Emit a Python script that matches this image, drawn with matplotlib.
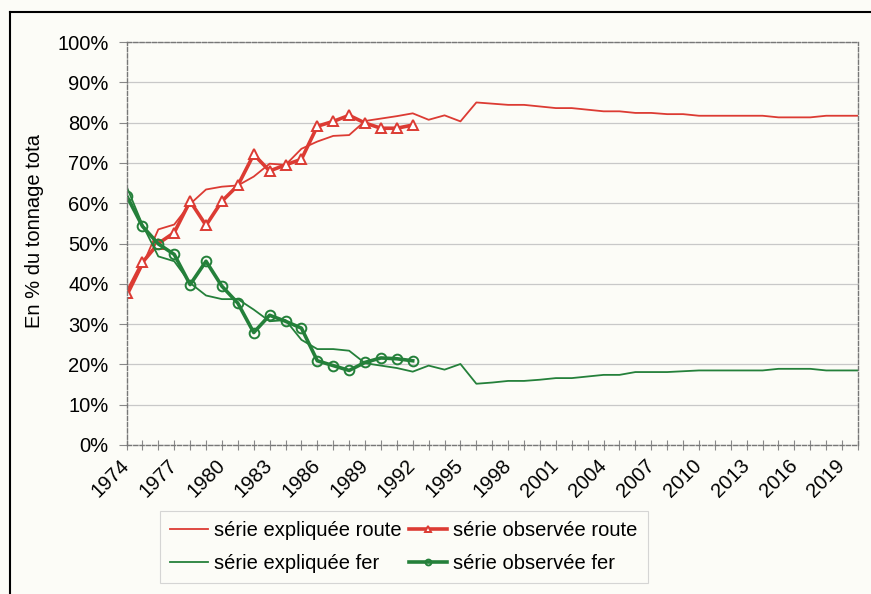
import numpy as np
import matplotlib.pyplot as plt
from matplotlib.lines import Line2D
from matplotlib.transforms import ScaledTranslation

plt.rcParams['font.family'] = ['Liberation Sans', 'DejaVu Sans']

# --- data (% of total tonnage) --------------------------------------------
years = list(range(1974, 2021))

route_explained = [36.5, 44.5, 53.5, 54.7, 59.8, 63.4, 64.1, 64.4, 66.6, 69.8,
                   69.5, 73.5, 75.3, 76.7, 76.9, 80.4, 81.0, 81.6, 82.3, 80.7,
                   81.8, 80.3, 85.0, 84.7, 84.4, 84.4, 84.0, 83.6, 83.6, 83.2,
                   82.8, 82.8, 82.4, 82.4, 82.1, 82.1, 81.7, 81.7, 81.7, 81.7,
                   81.7, 81.3, 81.3, 81.3, 81.7, 81.7, 81.7]
fer_explained = [64.2, 54.7, 46.8, 45.6, 40.2, 37.1, 36.2, 36.2, 33.6, 30.7,
                 31.0, 26.1, 23.8, 23.8, 23.4, 20.3, 19.7, 19.1, 18.2, 19.7,
                 18.7, 20.1, 15.2, 15.5, 15.9, 15.9, 16.2, 16.6, 16.6, 17.0,
                 17.4, 17.4, 18.1, 18.1, 18.1, 18.3, 18.5, 18.5, 18.5, 18.5,
                 18.5, 18.9, 18.9, 18.9, 18.5, 18.5, 18.5]

obs_years = list(range(1974, 1993))
route_observed = [37.7, 45.3, 50.0, 52.7, 60.5, 54.5, 60.5, 64.4, 72.1, 68.0,
                  69.5, 70.9, 79.1, 80.3, 81.8, 79.9, 78.6, 78.6, 79.4]
fer_observed = [61.9, 54.3, 49.9, 47.3, 39.8, 45.6, 39.4, 35.2, 27.9, 32.2,
                30.7, 29.0, 20.9, 19.7, 18.5, 20.5, 21.6, 21.4, 20.9]

label_years = years[:-1:3]   # 1974, 1977, ..., 2019

RED = '#dc3b33'
GREEN = '#24803a'
BG = '#fcfcf7'

fig = plt.figure(figsize=(8.71, 5.94), dpi=100, facecolor=BG)
ax = fig.add_axes([126.5 / 871, 1 - 445 / 594, (858 - 126.5) / 871, (445 - 42) / 594])
ax.set_facecolor(BG)

ax.plot(years, route_explained, color=RED, lw=1.3, label='série expliquée route')
ax.plot(obs_years, route_observed, color=RED, lw=2.6, marker='^', ms=7.5,
        mfc='white', mec=RED, mew=1.4, label='série observée route')
ax.plot(years, fer_explained, color=GREEN, lw=1.3, label='série expliquée fer')
ax.plot(obs_years, fer_observed, color=GREEN, lw=2.6, marker='o', ms=7,
        mfc='none', mec=GREEN, mew=1.4, label='série observée fer')

ax.set_xlim(1974, 2020)
ax.set_ylim(0, 100)
ax.set_yticks(np.arange(0, 101, 10))
ax.set_yticklabels([f'{v}%' for v in range(0, 101, 10)], fontsize=14.5)
ax.set_xticks(label_years)
ax.set_xticklabels([str(y) for y in label_years], fontsize=14.5, rotation=45,
                   ha='right', va='center', rotation_mode='anchor')
shift = ScaledTranslation(6 / 100, 0, fig.dpi_scale_trans)
for lbl in ax.get_xticklabels():
    lbl.set_transform(lbl.get_transform() + shift)
ax.set_xticks(years, minor=True)
ax.tick_params(axis='x', which='both', direction='inout', length=7, width=0.8,
               color='#888888', pad=9)
ax.tick_params(axis='y', direction='out', length=6, width=0.8, color='#888888', pad=7)
ax.grid(axis='y', color='#c8c8c8', lw=0.9)
ax.set_axisbelow(True)
for s in ax.spines.values():
    s.set_linestyle((0, (3, 1.5)))
    s.set_color('#777777')
    s.set_linewidth(1.0)

fig.text(35 / 871, 1 - 231 / 594, 'En % du tonnage tota', rotation=90,
         ha='center', va='center', fontsize=14.5)

handles, labels = ax.get_legend_handles_labels()
order = [0, 2, 1, 3]
leg = fig.legend([handles[i] for i in order], [labels[i] for i in order],
                 ncol=2, loc='upper left', bbox_to_anchor=(160 / 871, 1 - 511 / 594),
                 fontsize=14.5, frameon=True, fancybox=False, handlelength=1.9,
                 handletextpad=0.3, columnspacing=0.35, labelspacing=0.7,
                 borderpad=0.5, borderaxespad=0, markerscale=0.6)
leg.get_frame().set_edgecolor('#cccccc')
leg.get_frame().set_facecolor(BG)
leg.get_frame().set_linewidth(0.8)

# outer frame of the scanned chart
fig.add_artist(Line2D([10 / 871, 10 / 871], [0, 1 - 12 / 594], color='black', lw=1.5))
fig.add_artist(Line2D([10 / 871, 1], [1 - 12 / 594, 1 - 12 / 594], color='black', lw=1.5))

fig.savefig('out.png', dpi=100, facecolor=BG)
